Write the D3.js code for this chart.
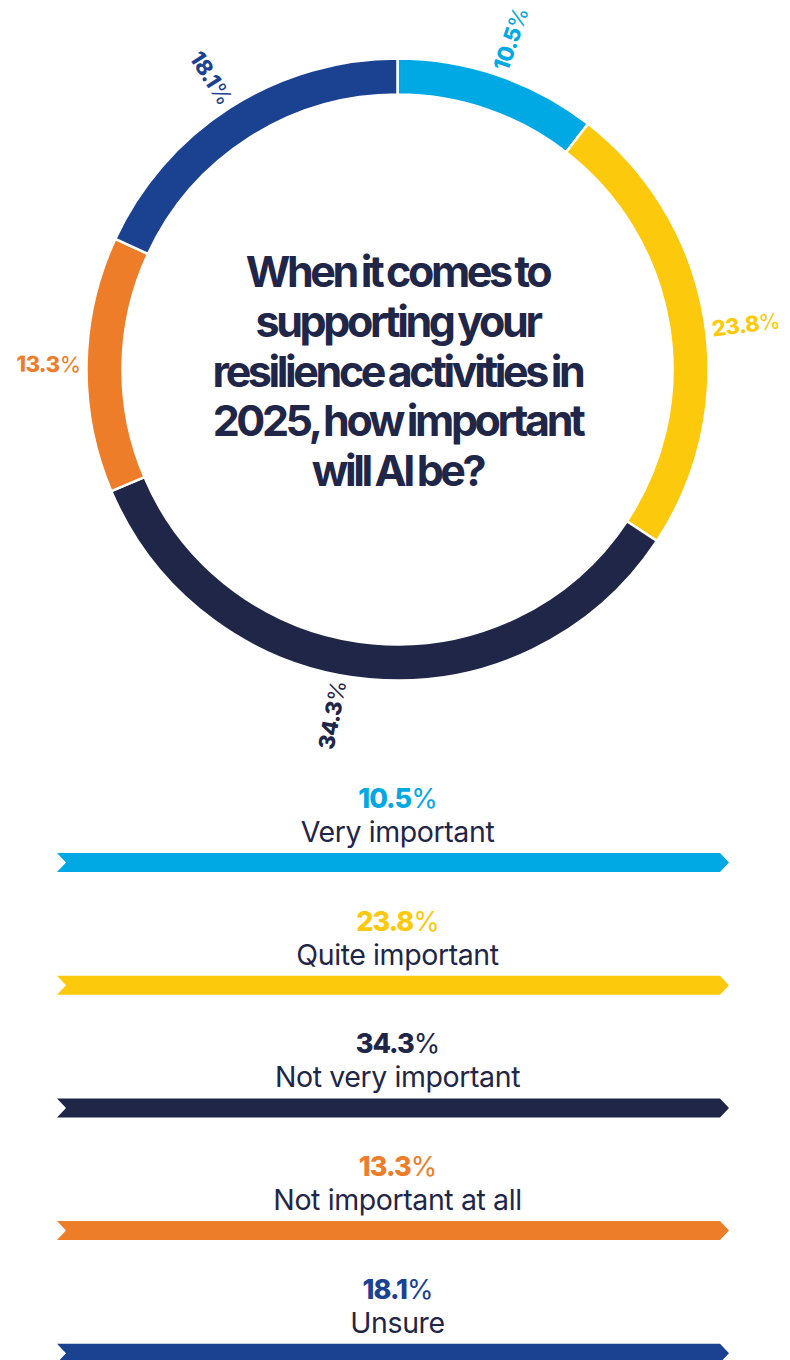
<!DOCTYPE html>
<html>
<head>
<meta charset="utf-8">
<script src="https://cdn.jsdelivr.net/npm/d3@7"></script>
<style>
  html, body { margin: 0; padding: 0; background: #ffffff; }
  svg { display: block; }
</style>
</head>
<body>
<svg id="chart" width="790" height="1360"></svg>
<script>
// Survey answers, in ring order (clockwise from 12 o'clock)
const categories = ["Very important", "Quite important", "Not very important", "Not important at all", "Unsure"];
const values = [10.5, 23.8, 34.3, 13.3, 18.1];
const colors = ["#00a8e4", "#fdc90c", "#1f2648", "#ee7d2a", "#1b4290"];
const titleLines = [
  "When it comes to",
  "supporting your",
  "resilience activities in",
  "2025, how important",
  "will AI be?"
];

const ink = "#1f2648";
const svg = d3.select("#chart");

// ---- Donut ring ----
const cx = 397.5, cy = 369.5;
const rOuter = 311, rInner = 275;

const pie = d3.pie().sort(null).value(d => d.value);
const arcs = pie(categories.map((c, i) => ({ name: c, value: values[i], color: colors[i] })));

const arc = d3.arc().innerRadius(rInner).outerRadius(rOuter);

const ring = svg.append("g").attr("transform", `translate(${cx},${cy})`);

ring.selectAll("path.seg")
  .data(arcs)
  .join("path")
  .attr("class", "seg")
  .attr("d", arc)
  .attr("fill", d => d.data.color)
  .attr("stroke", "#ffffff")
  .attr("stroke-width", 2.5);

// Percentage labels set radially just outside the ring
const labelR = 317;
const nudgeDeg = { "Quite important": 2, "Not very important": 5.5 };
const fmt = v => d3.format(".1f")(v);

arcs.forEach(d => {
  const midDeg = ((d.startAngle + d.endAngle) / 2) * 180 / Math.PI + (nudgeDeg[d.data.name] || 0);
  const a = midDeg * Math.PI / 180;
  const x = labelR * Math.sin(a);
  const y = -labelR * Math.cos(a);
  const leftSide = midDeg > 180;
  const rot = leftSide ? midDeg + 90 : midDeg - 90;
  const t = ring.append("text")
    .attr("transform", `translate(${x},${y}) rotate(${rot})`)
    .attr("text-anchor", leftSide ? "end" : "start")
    .attr("dominant-baseline", "central")
    .attr("font-family", "Inter, 'Noto Sans', sans-serif")
    .attr("font-size", 22)
    .attr("letter-spacing", -0.6)
    .attr("fill", d.data.color);
  t.append("tspan").attr("font-weight", 800).text(fmt(d.data.value));
  t.append("tspan").attr("font-weight", 400).text("%");
});

// ---- Question in the middle of the ring ----
const title = svg.append("text")
  .attr("text-anchor", "middle")
  .attr("font-family", "Inter, 'Noto Sans', sans-serif")
  .attr("font-weight", 700)
  .attr("font-size", 43)
  .attr("letter-spacing", -3.4)
  .attr("word-spacing", -2)
  .attr("fill", ink);

titleLines.forEach((line, i) => {
  title.append("tspan")
    .attr("x", cx)
    .attr("y", 287 + i * 49.8)
    .text(line);
});

// ---- Legend with chevron bars ----
const legendTop = 808;          // baseline of the first percentage
const rowStep = 122.7;
const barX0 = 57, barX1 = 729, barH = 19, tip = 9;

const yRow = d3.scaleLinear().domain([0, 1]).range([legendTop, legendTop + rowStep]);

const rows = svg.append("g").selectAll("g.row")
  .data(arcs.map(d => d.data))
  .join("g")
  .attr("class", "row")
  .attr("transform", (d, i) => `translate(0,${yRow(i)})`);

rows.append("text")
  .attr("x", cx)
  .attr("y", 0)
  .attr("text-anchor", "middle")
  .attr("font-family", "Inter, 'Noto Sans', sans-serif")
  .attr("font-size", 27)
  .attr("letter-spacing", -1)
  .attr("fill", d => d.color)
  .each(function (d) {
    const t = d3.select(this);
    t.append("tspan").attr("font-weight", 800).text(fmt(d.value));
    t.append("tspan").attr("font-weight", 400).text("%");
  });

rows.append("text")
  .attr("x", cx)
  .attr("y", 34)
  .attr("text-anchor", "middle")
  .attr("font-family", "Inter, 'Noto Sans', sans-serif")
  .attr("font-weight", 400)
  .attr("font-size", 28.5)
  .attr("letter-spacing", -0.4)
  .attr("fill", ink)
  .text(d => d.name);

const chevron = d3.line();
rows.append("path")
  .attr("d", () => {
    const y0 = 45, y1 = 45 + barH, ym = 45 + barH / 2;
    return chevron([
      [barX0, y0], [barX1 - tip, y0], [barX1, ym], [barX1 - tip, y1],
      [barX0, y1], [barX0 + tip, ym]
    ]) + "Z";
  })
  .attr("fill", d => d.color);
</script>
</body>
</html>
